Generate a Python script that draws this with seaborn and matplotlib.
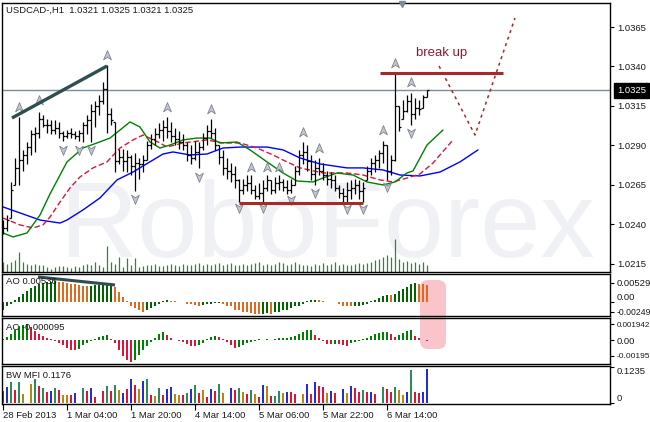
import numpy as np
import matplotlib
matplotlib.use("Agg")
import matplotlib.pyplot as plt
from matplotlib.path import Path
from matplotlib.patches import FancyBboxPatch
from matplotlib.transforms import blended_transform_factory
import seaborn as sns

# ---------------- data ----------------
symbol_title = "USDCAD-,H1  1.0321 1.0325 1.0321 1.0325"

highs = [1.0243, 1.0246, 1.0267, 1.0282, 1.0308, 1.0287, 1.0292, 1.0300, 1.0302, 1.0311,
         1.0309, 1.0307, 1.0306, 1.0306, 1.0305, 1.0299, 1.0300, 1.0301, 1.0299, 1.0300,
         1.0305, 1.0309, 1.0316, 1.0318, 1.0322, 1.0330, 1.0341, 1.0314, 1.0305, 1.0288,
         1.0288, 1.0287, 1.0284, 1.0285, 1.0282, 1.0284, 1.0293, 1.0297, 1.0301, 1.0304,
         1.0306, 1.0308, 1.0305, 1.0301, 1.0299, 1.0297, 1.0292, 1.0290, 1.0293, 1.0292,
         1.0298, 1.0303, 1.0307, 1.0301, 1.0290, 1.0287, 1.0282, 1.0279, 1.0277, 1.0269,
         1.0269, 1.0271, 1.0271, 1.0265, 1.0266, 1.0268, 1.0271, 1.0268, 1.0270, 1.0271,
         1.0269, 1.0268, 1.0269, 1.0277, 1.0287, 1.0292, 1.0290, 1.0284, 1.0281, 1.0282,
         1.0279, 1.0274, 1.0273, 1.0271, 1.0265, 1.0263, 1.0267, 1.0268, 1.0269, 1.0268,
         1.0267, 1.0277, 1.0282, 1.0284, 1.0287, 1.0293, 1.0290, 1.0284, 1.0336, 1.0315,
         1.0319, 1.0322, 1.0323, 1.0320, 1.0319, 1.0322, 1.0325]
lows = [1.0234, 1.0236, 1.0244, 1.0265, 1.0265, 1.0274, 1.0278, 1.0284, 1.0286, 1.0295,
        1.0302, 1.0298, 1.0297, 1.0297, 1.0295, 1.0293, 1.0295, 1.0295, 1.0294, 1.0293,
        1.0292, 1.0297, 1.0292, 1.0302, 1.0309, 1.0316, 1.0298, 1.0303, 1.0273, 1.0278,
        1.0274, 1.0273, 1.0271, 1.0261, 1.0269, 1.0273, 1.0281, 1.0288, 1.0290, 1.0295,
        1.0293, 1.0295, 1.0292, 1.0290, 1.0288, 1.0287, 1.0280, 1.0278, 1.0281, 1.0276,
        1.0287, 1.0290, 1.0295, 1.0287, 1.0278, 1.0271, 1.0269, 1.0267, 1.0263, 1.0254,
        1.0259, 1.0261, 1.0259, 1.0256, 1.0256, 1.0254, 1.0261, 1.0259, 1.0260, 1.0262,
        1.0261, 1.0259, 1.0260, 1.0265, 1.0271, 1.0278, 1.0274, 1.0268, 1.0265, 1.0271,
        1.0268, 1.0265, 1.0263, 1.0261, 1.0257, 1.0254, 1.0254, 1.0256, 1.0259, 1.0256,
        1.0254, 1.0268, 1.0271, 1.0273, 1.0276, 1.0279, 1.0268, 1.0271, 1.0280, 1.0299,
        1.0307, 1.0311, 1.0303, 1.0307, 1.0309, 1.0314, 1.0321]
closes = [1.0238, 1.0243, 1.0262, 1.0276, 1.0281, 1.0284, 1.0289, 1.0297, 1.0298, 1.0307,
          1.0303, 1.0303, 1.0300, 1.0301, 1.0298, 1.0296, 1.0298, 1.0297, 1.0296, 1.0298,
          1.0303, 1.0306, 1.0312, 1.0315, 1.0318, 1.0326, 1.0310, 1.0306, 1.0280, 1.0283,
          1.0280, 1.0283, 1.0277, 1.0279, 1.0278, 1.0281, 1.0290, 1.0294, 1.0297, 1.0300,
          1.0302, 1.0299, 1.0296, 1.0294, 1.0292, 1.0290, 1.0284, 1.0282, 1.0286, 1.0289,
          1.0295, 1.0299, 1.0298, 1.0290, 1.0283, 1.0276, 1.0274, 1.0272, 1.0268, 1.0262,
          1.0265, 1.0266, 1.0262, 1.0258, 1.0260, 1.0263, 1.0268, 1.0262, 1.0266, 1.0267,
          1.0264, 1.0262, 1.0265, 1.0274, 1.0284, 1.0286, 1.0280, 1.0272, 1.0276, 1.0274,
          1.0271, 1.0269, 1.0268, 1.0263, 1.0260, 1.0258, 1.0262, 1.0263, 1.0265, 1.0261,
          1.0263, 1.0274, 1.0279, 1.0281, 1.0285, 1.0290, 1.0274, 1.0281, 1.0315, 1.0302,
          1.0312, 1.0318, 1.0310, 1.0314, 1.0313, 1.0321, 1.0325]

volumes = [300, 250, 300, 350, 600, 300, 250, 200, 250, 220,
           220, 150, 100, 150, 180, 170, 150, 120, 170, 150,
           220, 250, 220, 300, 200, 150, 800, 300, 250, 450,
           150, 420, 220, 420, 150, 180, 220, 200, 250, 180,
           180, 200, 250, 200, 180, 250, 200, 220, 250, 280,
           200, 250, 220, 250, 280, 220, 250, 280, 200, 220,
           250, 220, 250, 280, 300, 220, 250, 200, 250, 300,
           280, 220, 250, 300, 250, 220, 200, 180, 250, 200,
           280, 220, 250, 300, 220, 250, 200, 220, 250, 280,
           250, 280, 300, 350, 380, 450, 500, 450, 1000, 400,
           300, 330, 280, 300, 250, 300, 200]

# Alligator (bar index, price)
jaw_x = [0, 4.25, 9.25, 14.25, 16, 20, 24.25, 28.5, 32.5, 35, 40, 42.5, 46.75, 51, 55,
         59.25, 66, 70, 74.25, 79.25, 86, 90, 95, 99.25, 104.25, 109.25, 114.25, 118.75]
jaw_y = [1.02511, 1.02473, 1.02428, 1.02409, 1.02428, 1.02492, 1.02568, 1.02682, 1.02732,
         1.02770, 1.02846, 1.02859, 1.02840, 1.02846, 1.02884, 1.02890, 1.02890, 1.02872,
         1.02821, 1.02783, 1.02758, 1.02758, 1.02745, 1.02713, 1.02707, 1.02732, 1.02796, 1.02872]
teeth_x = [0, 4.25, 7.5, 10, 11.75, 14.25, 16.75, 19.25, 22.5, 26, 29.25, 32.5, 35, 39.25, 41,
           45, 51, 55, 59.25, 63.5, 67.5, 70, 74.25, 80, 86, 90, 94.25, 97.5, 101, 104.25,
           107.5, 112.5]
teeth_y = [1.02441, 1.02397, 1.02378, 1.02397, 1.02447, 1.02542, 1.02631, 1.02701, 1.02758,
           1.02796, 1.02884, 1.02935, 1.02966, 1.02916, 1.02890, 1.02916, 1.02935, 1.02916,
           1.02916, 1.02884, 1.02840, 1.02808, 1.02758, 1.02726, 1.02726, 1.02713, 1.02682,
           1.02669, 1.02694, 1.02720, 1.02789, 1.02935]
lips_x = [0, 2.5, 6, 9.25, 11.75, 16, 20, 23.5, 26.75, 29.25, 31.75, 34.25, 36.75, 39.25,
          41.75, 45, 48.5, 51.75, 54.25, 58.5, 61.75, 66, 70, 73.5, 77.5, 80, 83.5, 87.5, 91,
          95, 98, 101, 102.5, 106, 110]
lips_y = [1.02346, 1.02321, 1.02346, 1.02460, 1.02593, 1.02796, 1.02884, 1.02916, 1.02947,
          1.02998, 1.03049, 1.03017, 1.02922, 1.02884, 1.02903, 1.02935, 1.02947, 1.02947,
          1.02916, 1.02922, 1.02872, 1.02796, 1.02726, 1.02675, 1.02669, 1.02694, 1.02726,
          1.02713, 1.02669, 1.02650, 1.02669, 1.02726, 1.02739, 1.02903, 1.02998]

# fractal arrows (bar index, price)
up_idx = [4, 9, 26, 41, 52, 62, 66, 69, 75, 79, 95, 98, 102]
up_price = [1.03144, 1.03188, 1.03473, 1.03144, 1.03131, 1.02764, 1.02764, 1.02764,
            1.02985, 1.02884, 1.02998, 1.03422, 1.03302]
down_idx = [15, 19, 22, 33, 49, 59, 65, 72, 78, 86, 90, 96, 102]
down_price = [1.02872, 1.02872, 1.02872, 1.02561, 1.02701, 1.02504, 1.02504, 1.02555,
              1.02599, 1.02498, 1.02498, 1.02637, 1.02979]

# hand drawn objects
trend_x, trend_y = [2.25, 26], [1.03074, 1.03403]
resist_x, resist_y = [94.25, 125], [1.03361, 1.03361]
support_x, support_y = [59, 90], [1.02536, 1.02536]
forecast_x = [109, 118, 128]
forecast_y = [1.03403, 1.02966, 1.03707]
last_price = 1.0325
price_ticks = [1.0215, 1.0240, 1.0265, 1.0290, 1.0315, 1.0340, 1.0365]

# Awesome oscillator, units of 1e-3
ao = np.array([-1.86, -1.06, -0.53, 0.53, 1.33, 2.12, 2.92, 3.71, 4.24, 4.77,
               5.04, 5.30, 5.38, 5.57, 5.43, 5.30, 5.04, 4.90, 4.77, 4.51,
               4.37, 4.24, 4.37, 4.51, 4.64, 4.77, 4.90, 5.04, 3.98, 2.65,
               1.33, 0.27, -0.80, -1.59, -2.12, -2.39, -1.86, -1.33, -0.80, -0.27,
               0.27, 0.53, 0.40, 0.27, 0.13, 0.02, -0.27, -0.53, -0.66, -0.80,
               -0.66, -0.53, -0.27, -0.21, -0.16, -0.27, -0.80, -1.06, -1.86, -2.12,
               -2.39, -2.65, -2.78, -2.92, -3.05, -2.92, -2.86, -3.05, -2.65, -2.39,
               -2.12, -1.86, -1.59, -1.06, -0.80, -0.27, 0.27, 0.53, 0.58, 0.53,
               0.27, 0.13, 0.08, 0.01, -0.27, -0.80, -0.93, -1.06, -0.93, -0.80,
               -0.74, -0.27, 0.27, 0.53, 1.06, 1.59, 1.99, 1.86, 2.12, 2.92,
               3.45, 3.98, 4.77, 5.04, 4.90, 4.77, 4.64]) * 1e-3
ao_line_x, ao_line_y = [8.75, 28], [0.00676, 0.00464]

# Accelerator oscillator, units of 1e-4
ac = np.array([1.25, 3.75, 7.5, 12.5, 17.5, 18.75, 20.0, 16.25, 11.25, 7.5,
               5.0, 2.5, 1.25, -1.25, -3.75, -6.25, -10.0, -12.5, -13.1, -11.25,
               -6.25, -3.75, -1.25, 1.25, 3.75, 5.0, 6.25, 1.25, -3.75, -12.5,
               -20.0, -25.0, -27.5, -25.0, -18.75, -12.5, -7.5, -2.5, 2.5, 7.5,
               10.0, 6.25, 2.5, 0.3, -1.25, -2.5, -5.0, -7.5, -8.1, -6.25,
               -3.75, 1.25, 3.75, 5.0, 3.75, 1.25, -2.5, -6.25, -10.0, -8.75,
               -6.25, -3.75, -2.5, -1.25, 1.25, 0.6, 1.25, 0.6, 1.25, 1.9,
               2.5, 3.1, 3.75, 5.0, 7.5, 10.0, 12.5, 13.1, 6.25, 2.5,
               -1.25, -5.0, -5.6, -5.0, -5.6, -6.25, -6.9, -3.75, -2.5, -1.25,
               1.25, 2.5, 5.0, 7.5, 8.75, 10.0, 10.6, 7.5, 3.75, 6.25,
               8.75, 11.25, 12.5, 5.0, 2.5, -0.6, -0.95]) * 1e-4

# BW MFI
mfi = [0.0415, 0.0554, 0.0727, 0.0450, 0.0727, 0.0311, 0, 0.0657, 0.0830, 0.0588,
       0.0519, 0.0381, 0.0415, 0.0519, 0.0450, 0.0277, 0.0277, 0.0277, 0.0346, 0,
       0.0519, 0.0415, 0.0519, 0.0208, 0, 0.0415, 0.0588, 0.0415, 0.0623, 0.0450,
       0.0346, 0.0484, 0.0830, 0.0623, 0.0484, 0.0761, 0.0830, 0.0277, 0.0242, 0.0519,
       0.0277, 0.0484, 0.0554, 0.0311, 0.0277, 0.0277, 0.0346, 0.0484, 0.0623, 0.0346,
       0.0450, 0.0208, 0.0484, 0.0415, 0.0657, 0.0346, 0, 0.0519, 0.0450, 0.0519,
       0.0381, 0.0311, 0.0450, 0.0311, 0.0208, 0.0623, 0.0588, 0.0242, 0.0242, 0.0415,
       0.0346, 0.0381, 0.0381, 0.0311, 0, 0.0311, 0.0657, 0.0311, 0.0727, 0.0588,
       0.0554, 0.0346, 0.0415, 0.0346, 0, 0.0484, 0.0346, 0.0588, 0.0519, 0.0381,
       0.0450, 0.0381, 0.0381, 0.0311, 0, 0.0554, 0.0484, 0.0381, 0.0554, 0.0450,
       0.0277, 0.0381, 0.1142, 0.0381, 0.0346, 0.0381, 0.1176]
mfi_kind = ("rbgrgy-ygr" "grbgryyrb-" "grbr-rgrgy" "brbrybgryg" "rbbyyrgbgr"
            "yrbrgy-brg" "yrgyrbyrgg" "ybrr-ybrbr" "rybr-bybrr" "grbr-grrgy" "ybgrrbb")

time_idx = [0, 16, 32, 48, 64, 80, 96]
time_labels = ["28 Feb 2013", "1 Mar 04:00", "1 Mar 20:00", "4 Mar 14:00",
               "5 Mar 06:00", "5 Mar 22:00", "6 Mar 14:00"]

# ---------------- figure ----------------
sns.set_theme(style="white")
plt.rcParams["font.family"] = ["Liberation Sans", "DejaVu Sans"]
FS = 6.8
TXT = "#1a1a1a"

fig = plt.figure(figsize=(6.5, 4.22), dpi=100)
fig.patch.set_facecolor("white")
W, H = 650, 422


def box(x0, y0, x1, y1):
    return [x0 / W, 1 - y1 / H, (x1 - x0) / W, (y1 - y0) / H]


ax = fig.add_axes(box(2, 3, 610, 272))
ax_ao = fig.add_axes(box(2, 274, 610, 316))
ax_ac = fig.add_axes(box(2, 318, 610, 364))
ax_mfi = fig.add_axes(box(2, 366, 610, 404))
panels = [ax, ax_ao, ax_ac, ax_mfi]
for a in panels:
    a.set_xlim(-0.25, 151.75)
    for s in a.spines.values():
        s.set_color("black")
        s.set_linewidth(1.0)
        s.set_visible(True)
    a.yaxis.tick_right()
    a.tick_params(axis="y", which="both", right=True, left=False, direction="out",
                  length=3, width=0.8, color="black", pad=2, labelsize=FS,
                  labelcolor=TXT)
    a.tick_params(axis="x", bottom=False, labelbottom=False)
    a.grid(False)
ax_ao.set_facecolor("none")
ax_ac.set_facecolor("none")

# pink highlight behind the oscillators
hl = FancyBboxPatch((4.20, 0.73), 0.26, 0.69, boxstyle="round,pad=0,rounding_size=0.08",
                    transform=fig.dpi_scale_trans, fc="#f9c4ca", ec="none", zorder=-1)
fig.add_artist(hl)

# ---- main price panel ----
idx = np.arange(len(closes))
hi = np.array(highs)
lo = np.array(lows)
cl = np.array(closes)
op = np.clip(np.r_[cl[0], cl[:-1]], lo, hi)
op[-1] = 1.0321

ax.set_ylim(1.02099, 1.03802)
ax.text(0.094, 0.056, "RoboForex", transform=ax.transAxes, fontsize=78,
        color="#f0f1f5", va="baseline", ha="left", zorder=0)

ax.vlines(idx, 0, np.array(volumes) * 0.000123, transform=ax.get_xaxis_transform(),
          color="#2a8a2a", lw=0.9, zorder=1)

ax.axhline(last_price, color="#7d8c9c", lw=1, zorder=1)

sns.lineplot(x=jaw_x, y=jaw_y, ax=ax, color="#0000ff", lw=1, zorder=2)
sns.lineplot(x=teeth_x, y=teeth_y, ax=ax, color="#dc143c", lw=1, zorder=2)
ax.lines[-1].set_dashes([4, 2])
sns.lineplot(x=lips_x, y=lips_y, ax=ax, color="#008000", lw=1, zorder=2)

ax.vlines(idx, lo, hi, color="black", lw=0.9, zorder=3)
ax.hlines(op, idx - 0.45, idx, color="black", lw=0.9, zorder=3)
ax.hlines(cl, idx, idx + 0.45, color="black", lw=0.9, zorder=3)

up_arrow = Path([(0, 1), (0.8, -0.9), (0, -0.35), (-0.8, -0.9), (0, 1)],
                [Path.MOVETO, Path.LINETO, Path.LINETO, Path.LINETO, Path.CLOSEPOLY])
down_arrow = Path([(0, -1), (0.8, 0.9), (0, 0.35), (-0.8, 0.9), (0, -1)],
                  [Path.MOVETO, Path.LINETO, Path.LINETO, Path.LINETO, Path.CLOSEPOLY])
ax.plot(up_idx, up_price, ls="none", marker=up_arrow, ms=7, mfc="#c3c7cf",
        mec="#7d838f", mew=0.6, zorder=4)
ax.plot(down_idx, down_price, ls="none", marker=down_arrow, ms=7, mfc="#c3c7cf",
        mec="#7d838f", mew=0.6, zorder=4)

ax.plot(trend_x, trend_y, color="#2f4f4f", lw=2.4, solid_capstyle="butt", zorder=5)
ax.plot(resist_x, resist_y, color="#a52a2a", lw=2.2, solid_capstyle="butt", zorder=5)
ax.plot(support_x, support_y, color="#a52a2a", lw=2.2, solid_capstyle="butt", zorder=5)
ax.plot(forecast_x, forecast_y, color="#a52a2a", lw=1.1, dashes=[2, 2.5], zorder=5)
ax.text(109.7, 1.03485, "break up", color="#8b1c2c", fontsize=9.5, ha="center",
        va="center", zorder=6)

ax.plot([99.75], [0.997], marker="v", ms=5, color="#808893",
        transform=ax.get_xaxis_transform(), clip_on=False, zorder=6)

ax.set_yticks(price_ticks)
ax.set_yticklabels(["%.4f" % p for p in price_ticks])
ax.text(0.0066, 0.974, symbol_title, transform=ax.transAxes, fontsize=FS,
        color=TXT, va="center", ha="left")
ax.text(1.0115, last_price, "%.4f" % last_price,
        transform=blended_transform_factory(ax.transAxes, ax.transData),
        fontsize=FS, color="white", va="center", ha="left", clip_on=False,
        bbox=dict(boxstyle="square,pad=0.3", fc="black", ec="black"))

# ---- AO ----
ao_col = ["#006400" if i == 0 or ao[i] > ao[i - 1] else "#e0691e" for i in idx]
ax_ao.bar(idx, ao, width=0.72, color=ao_col, linewidth=0)
ax_ao.plot(ao_line_x, ao_line_y, color="#2f4f4f", lw=2.2, solid_capstyle="butt")
ax_ao.set_ylim(-0.00358, 0.00755)
ax_ao.set_yticks([0.00529, 0.0, -0.00249])
ax_ao.set_yticklabels(["0.00529", "0.00", "-0.00249"])
ax_ao.get_yticklabels()[1].set_va("bottom")
ax_ao.get_yticklabels()[2].set_fontsize(6.2)
ax_ao.text(0.0066, 0.81, "AO 0.00536", transform=ax_ao.transAxes, fontsize=FS,
           color=TXT, va="center", zorder=5)

# ---- AC ----
ac_col = ["#008000" if i == 0 or ac[i] > ac[i - 1] else "#dc143c" for i in idx]
ax_ac.bar(idx, ac, width=0.72, color=ac_col, linewidth=0)
ax_ac.set_ylim(-0.0030, 0.00275)
ax_ac.set_yticks([0.001942, 0.0, -0.00195])
ax_ac.set_yticklabels(["0.001942", "0.00", "-0.00195"])
ax_ac.get_yticklabels()[0].set_fontsize(5.8)
ax_ac.get_yticklabels()[2].set_fontsize(6.0)
ax_ac.text(0.0066, 0.80, "AC -0.000095", transform=ax_ac.transAxes, fontsize=FS,
           color=TXT, va="center", zorder=5)

# ---- BW MFI ----
kind_color = {"g": "#2e8b57", "r": "#dc143c", "y": "#b8860b", "b": "#0000cd"}
mfi_arr = np.array(mfi)
for k, c in kind_color.items():
    sel = np.array([m == k for m in mfi_kind])
    if k == "b":
        ax_mfi.vlines(idx[sel], 0, mfi_arr[sel], color=c, lw=1.2)
    else:
        ax_mfi.bar(idx[sel], mfi_arr[sel], width=0.72, color=c, linewidth=0)
ax_mfi.set_ylim(-0.0035, 0.128)
ax_mfi.set_yticks([0.1235, 0.0])
ax_mfi.set_yticklabels(["0.1235", "0"])
ax_mfi.get_yticklabels()[0].set_va("top")
ax_mfi.get_yticklabels()[1].set_va("bottom")
ax_mfi.text(0.0066, 0.74, "BW MFI 0.1176", transform=ax_mfi.transAxes, fontsize=FS,
            color=TXT, va="center", zorder=5)

ax_mfi.set_xticks(time_idx)
ax_mfi.set_xticklabels(time_labels, ha="left")
ax_mfi.tick_params(axis="x", bottom=True, labelbottom=True, direction="out", length=4,
                   width=0.8, color="black", pad=1, labelsize=FS, labelcolor=TXT)

fig.savefig("out.png", dpi=100)
